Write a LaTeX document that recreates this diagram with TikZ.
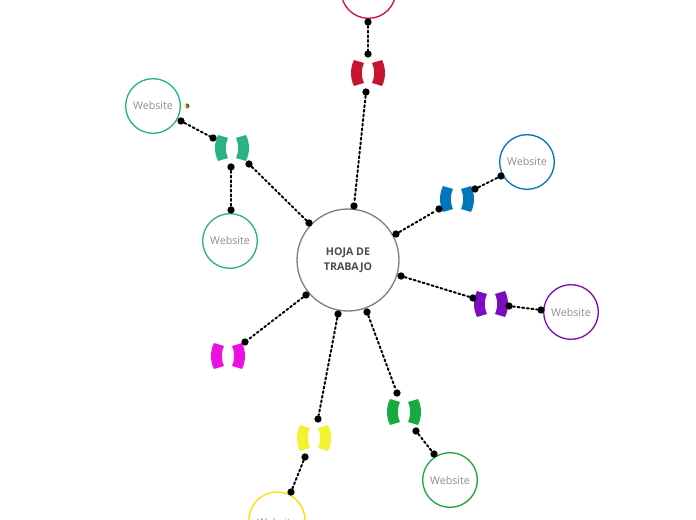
\documentclass[tikz,border=0pt]{standalone}
\usepackage{fontspec}
\setmainfont{Open Sans}
\begin{document}
\begin{tikzpicture}[x=0.75pt,y=-0.75pt]
\definecolor{cred}{RGB}{200,20,50}
\definecolor{cteal}{RGB}{42,178,134}
\definecolor{cblue}{RGB}{0,119,187}
\definecolor{cpurple}{RGB}{123,15,190}
\definecolor{cmag}{RGB}{235,15,225}
\definecolor{cgreen}{RGB}{24,170,60}
\definecolor{cyellow}{RGB}{242,242,50}
\definecolor{cywebsite}{RGB}{250,225,0}
\definecolor{txtgray}{RGB}{140,140,140}
\tikzset{
  site/.style={circle,draw=#1,line width=1pt,minimum size=41pt,inner sep=0pt,
    font=\fontsize{8}{10}\selectfont,text=txtgray},
  dotnode/.style={circle,fill=black,minimum size=5.5pt,inner sep=0pt},
  link/.style={line width=1.5pt,dotted,line cap=round},
  pics/bracket/.style={code={
    \fill[#1] (-14,-13) .. controls (-18,-5) and (-18,5) .. (-14,13) -- (-4,10) .. controls (-7,3) and (-7,-3) .. (-4,-10) -- cycle;
    \fill[#1] (14,-13) .. controls (18,-5) and (18,5) .. (14,13) -- (4,10) .. controls (7,3) and (7,-3) .. (4,-10) -- cycle;
  }}
}
\useasboundingbox (0,0) rectangle (696,520);
% central
\node[circle,draw=gray,line width=1pt,minimum size=76.5pt,inner sep=0pt,align=center,
  font=\bfseries\fontsize{8}{11.25}\selectfont,text=black!70] (center) at (348,260) {HOJA DE\\TRABAJO};
% websites
\node[site=cred] (wred) at (368.5,-9) {};
\node[site=cteal] (wteal1) at (153,106) {Website};
\node[site=cteal] (wteal2) at (230,241) {Website};
\node[site=cblue] (wblue) at (527,162) {Website};
\node[site=cpurple] (wpurple) at (571,312) {Website};
\node[site=cgreen] (wgreen) at (450,480) {Website};
\node[site=cywebsite,minimum size=42pt] (wyellow) at (277,520) {};
\node[font=\fontsize{8}{10}\selectfont,text=txtgray] (wytext) at (277,522) {Website};
% small icon
\begin{scope}[shift={(187,106)}]
\fill[red!80] (0,0) -- (2.5,0) arc (0:120:2.5) -- cycle;
\fill[yellow!90!orange] (0,0) -- (-1.25,-2.165) arc (240:120:2.5) -- cycle;
\fill[green!60!black] (0,0) -- (2.5,0) arc (0:-120:2.5) -- cycle;
\fill[blue!70] (0,0) circle (1);
\end{scope}
% brackets
\pic at (368,73) {bracket=cred};
\pic at (232,148) {bracket=cteal};
\pic at (457,199) {bracket=cblue};
\pic at (491,304) {bracket=cpurple};
\pic at (228,356) {bracket=cmag};
\pic at (404,412) {bracket=cgreen};
\pic at (314,438) {bracket=cyellow};
% dots
\node[dotnode] (r1) at (368,22) {};
\node[dotnode] (r2) at (368,54) {};
\node[dotnode] (r3) at (366,92) {};
\node[dotnode] (r4) at (354,206) {};
\node[dotnode] (t1) at (181,121) {};
\node[dotnode] (t2) at (213,138) {};
\node[dotnode] (t3) at (231,167) {};
\node[dotnode] (t4) at (231,210) {};
\node[dotnode] (t5) at (249,164) {};
\node[dotnode] (t6) at (309,223) {};
\node[dotnode] (b1) at (396,234) {};
\node[dotnode] (b2) at (439,209) {};
\node[dotnode] (b3) at (475,189) {};
\node[dotnode] (b4) at (501,176) {};
\node[dotnode] (p1) at (401,276) {};
\node[dotnode] (p2) at (473,298) {};
\node[dotnode] (p3) at (509,306) {};
\node[dotnode] (p4) at (541,310) {};
\node[dotnode] (m1) at (306,295) {};
\node[dotnode] (m2) at (245,342) {};
\node[dotnode] (g1) at (367,312) {};
\node[dotnode] (g2) at (397,393) {};
\node[dotnode] (g3) at (416,431) {};
\node[dotnode] (g4) at (434,454) {};
\node[dotnode] (y1) at (338,314) {};
\node[dotnode] (y2) at (318,419) {};
\node[dotnode] (y3) at (305,457) {};
\node[dotnode] (y4) at (291,492) {};
% links
\draw[link] (r1) -- (r2);
\draw[link] (r3) -- (r4);
\draw[link] (t1) -- (t2);
\draw[link] (t3) -- (t4);
\draw[link] (t5) -- (t6);
\draw[link] (b1) -- (b2);
\draw[link] (b3) -- (b4);
\draw[link] (p1) -- (p2);
\draw[link] (p3) -- (p4);
\draw[link] (m1) -- (m2);
\draw[link] (g1) -- (g2);
\draw[link] (g3) -- (g4);
\draw[link] (y1) -- (y2);
\draw[link] (y3) -- (y4);
\end{tikzpicture}
\end{document}
